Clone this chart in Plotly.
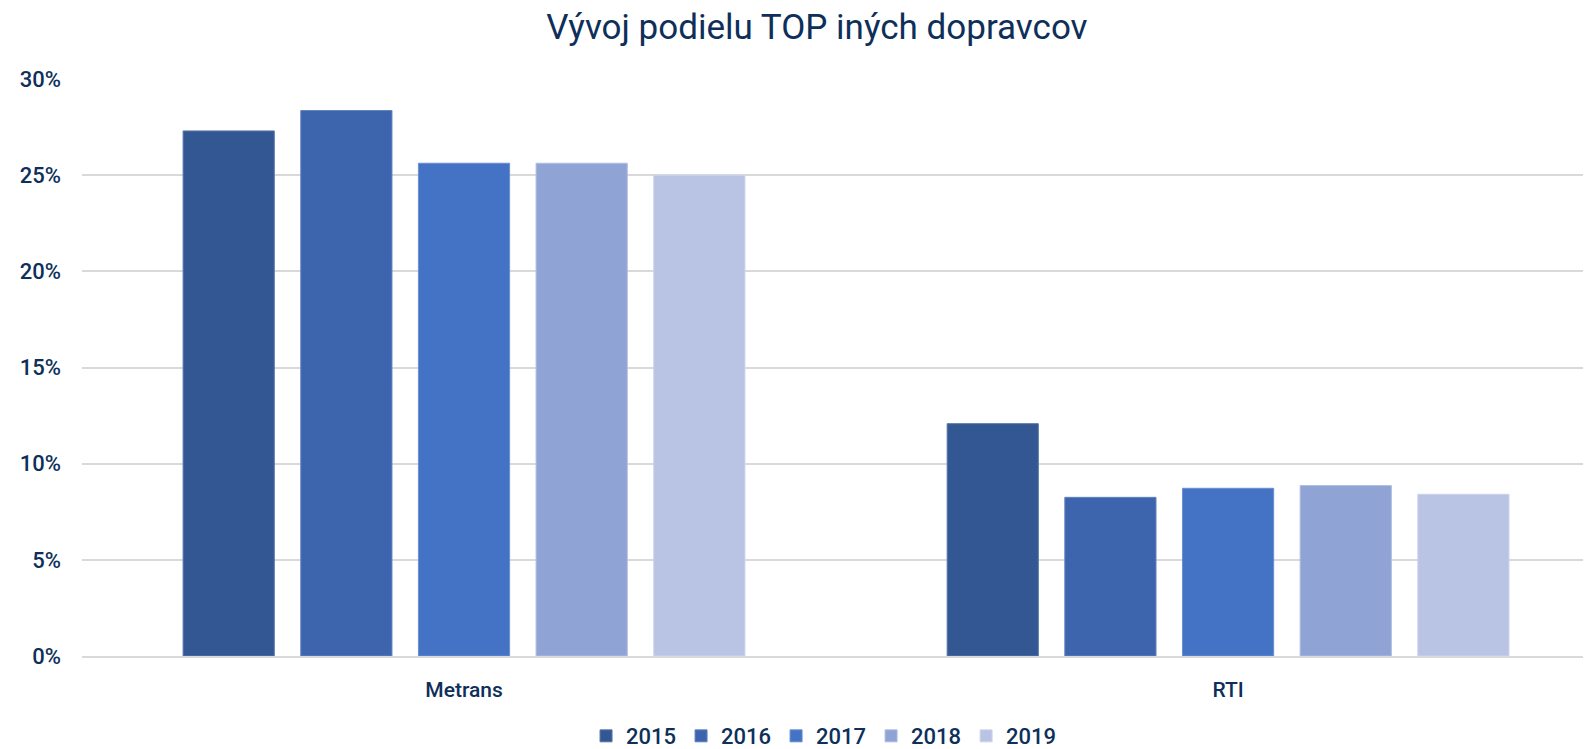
import plotly.graph_objects as go

categories = ["Metrans", "RTI"]
years = ["2015", "2016", "2017", "2018", "2019"]
values = {
    "2015": [0.273, 0.1208],
    "2016": [0.2836, 0.0825],
    "2017": [0.2562, 0.0872],
    "2018": [0.2562, 0.0886],
    "2019": [0.2500, 0.0841],
}
colors = ["#335793", "#3C65AD", "#4472C4", "#8FA3D4", "#B9C3E3"]
edge_colors = ["#5B77A8", "#6383BD", "#6A8FD0", "#AEBDE0", "#CDD5EC"]

TXT = "#0E2F5A"
FONT = "Roboto"

fig = go.Figure()
for y, c, e in zip(years, colors, edge_colors):
    fig.add_trace(go.Bar(
        name=y, x=categories, y=values[y],
        marker=dict(color=c, line=dict(color=e, width=1)),
    ))

fig.update_layout(
    width=1583, height=741,
    paper_bgcolor="white", plot_bgcolor="white",
    barmode="group", bargap=0.23, bargroupgap=0.225,
    margin=dict(l=74, r=0, t=71, b=93, autoexpand=False),
    title=dict(text="Vývoj podielu TOP iných dopravcov", x=0.511, xref="container",
               xanchor="center", y=0.975, yref="container", yanchor="middle",
               font=dict(family=FONT, size=35, color=TXT)),
    font=dict(family=FONT, color=TXT),
    legend=dict(orientation="h", x=0.5155, xanchor="center", xref="container",
                y=0.0175, yref="container", yanchor="middle",
                font=dict(size=22, color=TXT, weight=500),
                itemwidth=30, traceorder="normal"),
    xaxis=dict(range=[-0.5, 1.475], showgrid=False, showline=True,
               linecolor="#D9D9D9", linewidth=1.5,
               tickfont=dict(size=21, color=TXT, weight=500), ticks="",
               ticklabelstandoff=14),
    yaxis=dict(range=[0, 0.30], tickvals=[0, 0.05, 0.10, 0.15, 0.20, 0.25, 0.30],
               tickformat=".0%", showgrid=True, gridcolor="#D9D9D9", gridwidth=1.5,
               zeroline=False, tickfont=dict(size=22, color=TXT, weight=500),
               ticklabelstandoff=20),
)

fig.write_html("out.html")
